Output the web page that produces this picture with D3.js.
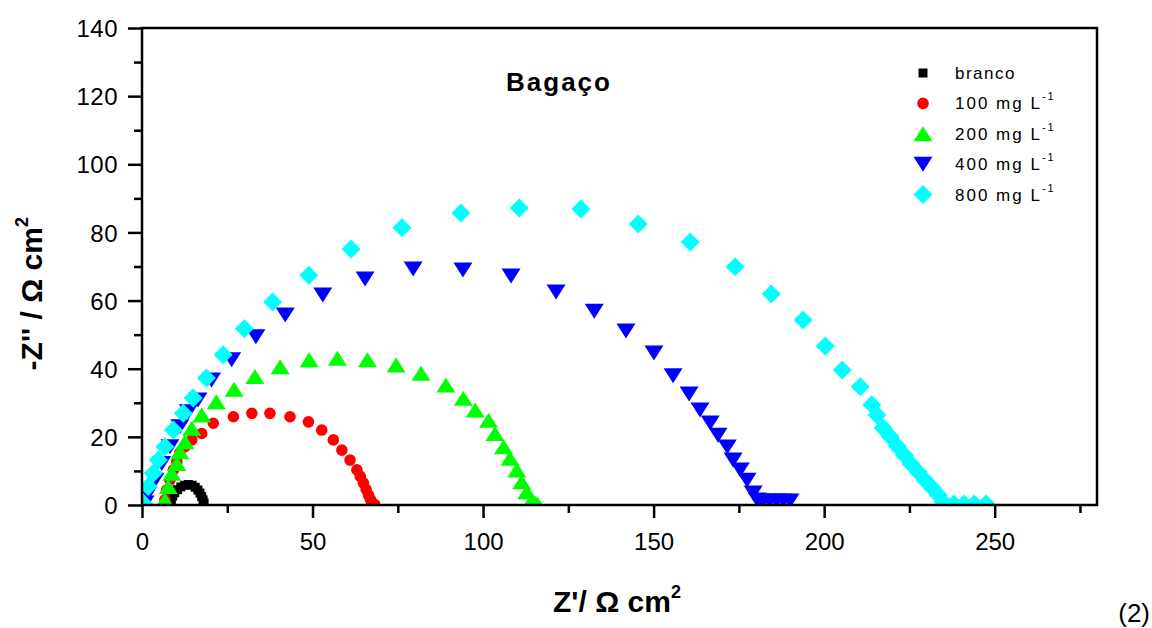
<!DOCTYPE html>
<html>
<head>
<meta charset="utf-8">
<script src="https://cdn.jsdelivr.net/npm/d3@7"></script>
<style>
  body { margin: 0; background: #fff; }
  text { font-family: "Liberation Sans", Arial, sans-serif; }
</style>
</head>
<body>
<div id="chart"></div>
<script>
// Nyquist data: [Z', -Z''] in ohm cm2
const branco = [
  [8.4, 0.5], [8.6, 1.5], [9.0, 2.6], [9.6, 3.6], [10.4, 4.5], [11.4, 5.3],
  [12.5, 5.8], [13.6, 6.0], [14.7, 5.8], [15.6, 5.2], [16.4, 4.4], [17.0, 3.5],
  [17.5, 2.5], [17.9, 1.5], [18.2, 0.6]
];
const mg100 = [
  [6.7, 1.5], [7.2, 4.4], [8.2, 7.3], [9.2, 10.3], [10.2, 12.7], [11.1, 15.3],
  [12.6, 17.1], [14.6, 19.1], [17.5, 21.0], [20.9, 24.0], [26.8, 25.9],
  [32.2, 26.9], [37.5, 26.9], [43.4, 25.9], [48.8, 24.4], [52.7, 22.0],
  [56.1, 19.1], [58.6, 16.1], [61.0, 13.2], [63.0, 10.3], [64.0, 8.4],
  [64.9, 6.5], [65.7, 4.6], [66.4, 2.9], [67.0, 1.6], [67.4, 0.6], [68.2, 0.2]
];
const mg200 = [
  [6.7, 1.5], [7.7, 5.4], [8.7, 9.3], [10.2, 12.2], [11.1, 15.6], [12.6, 18.6],
  [14.6, 22.5], [17.5, 26.4], [21.8, 30.3], [27.0, 34.0], [33.1, 37.7],
  [40.5, 40.6], [49.0, 42.6], [57.3, 43.1], [66.1, 42.6], [74.5, 41.1],
  [81.8, 38.7], [89.1, 35.2], [94.2, 31.3], [97.7, 27.9], [101.6, 24.9],
  [103.5, 21.0], [106.0, 17.1], [107.9, 13.7], [109.9, 10.3], [111.3, 6.8],
  [112.8, 3.9], [114.3, 1.5], [115.2, 0.6], [116.0, 0.2]
];
const mg400 = [
  [0.9, 0.6], [1.8, 3.4], [3.8, 7.3], [5.8, 12.2], [8.2, 17.1], [11.1, 23.0],
  [13.6, 27.4], [16.4, 30.8], [20.4, 36.7], [26.3, 42.6], [33.4, 49.4],
  [42.0, 55.8], [53.0, 61.6], [65.4, 66.3], [79.5, 69.3], [94.1, 69.0],
  [108.2, 67.2], [121.4, 62.5], [132.6, 56.9], [141.9, 51.1], [150.1, 44.6],
  [155.7, 37.9], [160.4, 32.6], [163.6, 27.9], [166.6, 24.1], [168.9, 20.5],
  [171.6, 17.0], [173.3, 13.2], [175.4, 10.3], [177.4, 7.3], [179.2, 3.5],
  [180.4, 1.5], [182.0, 1.2], [184.0, 1.2], [186.0, 1.2], [188.0, 1.2], [190.0, 1.2]
];
const mg800 = [
  [0.6, 0.3], [1.8, 5.4], [3.3, 9.3], [4.8, 13.2], [6.7, 17.1], [9.2, 22.0],
  [12.1, 26.9], [15.0, 31.4], [18.9, 37.3], [23.8, 44.1], [30.0, 51.7],
  [38.3, 59.6], [48.9, 67.4], [61.3, 75.1], [76.2, 81.4], [93.5, 85.7],
  [110.6, 87.2], [128.7, 86.9], [145.5, 82.5], [160.7, 77.2], [173.9, 69.9],
  [184.5, 61.9], [193.8, 54.3], [200.3, 46.7], [205.3, 39.6], [210.6, 34.7],
  [214.0, 29.4], [215.5, 26.4], [217.3, 22.6], [219.4, 20.0], [221.4, 17.3],
  [223.5, 14.7], [225.5, 12.0], [227.6, 9.7], [229.6, 7.3], [231.7, 5.0],
  [233.4, 2.9], [234.9, 0.9], [238.0, 0.3], [241.0, 0.3], [244.0, 0.3], [247.5, 0.3]
];

const seriesNames = ['branco', '100 mg L', '200 mg L', '400 mg L', '800 mg L'];
const seriesColors = ['#000000', '#ff0000', '#00ff00', '#0000ff', '#00ffff'];
const seriesShapes = ['square', 'circle', 'triangleUp', 'triangleDown', 'diamond'];
const seriesData = [branco, mg100, mg200, mg400, mg800];

const xTicks = [0, 50, 100, 150, 200, 250];
const yTicks = [0, 20, 40, 60, 80, 100, 120, 140];

const totalWidth = 1152;
const totalHeight = 628;
const margin = { top: 28, right: 55, bottom: 123, left: 142 };
const width = totalWidth - margin.left - margin.right;
const height = totalHeight - margin.top - margin.bottom;

const xScale = d3.scaleLinear().domain([0, 280]).range([0, width]);
const yScale = d3.scaleLinear().domain([0, 140]).range([height, 0]);

// marker outlines in pixels, centred on 0,0
const shapePath = (shape) => {
  switch (shape) {
    case 'square':
      return 'M-4.5,-4.5h9v9h-9Z';
    case 'circle':
      return 'M-5.8,0a5.8,5.8 0 1,0 11.6,0a5.8,5.8 0 1,0 -11.6,0Z';
    case 'triangleUp':
      return 'M0,-7.5L9.5,7.5L-9.5,7.5Z';
    case 'triangleDown':
      return 'M-9.5,-7.5L9.5,-7.5L0,7.5Z';
    default:
      return 'M0,-9.5L9.5,0L0,9.5L-9.5,0Z';
  }
};

const root = d3
  .select('#chart')
  .append('svg')
  .attr('width', totalWidth)
  .attr('height', totalHeight);

const svg = root
  .append('g')
  .attr('transform', `translate(${margin.left}, ${margin.top})`);

root
  .append('defs')
  .append('clipPath')
  .attr('id', 'plot-clip')
  .append('rect')
  .attr('width', width)
  .attr('height', height);

// Render points
const plot = svg.append('g').attr('clip-path', 'url(#plot-clip)');
seriesData.forEach((data, i) => {
  plot
    .append('g')
    .selectAll('path')
    .data(data)
    .join('path')
    .attr('d', shapePath(seriesShapes[i]))
    .attr('transform', (d) => `translate(${xScale(d[0])}, ${yScale(d[1])})`)
    .attr('fill', seriesColors[i]);
});

// Render x axis
const xAxis = svg
  .append('g')
  .attr('transform', `translate(0, ${height})`)
  .call(d3.axisBottom(xScale).tickValues(d3.range(0, 281, 25)).tickSize(0).tickFormat(''));
xAxis.select('.domain').remove();
xAxis
  .selectAll('.tick line')
  .attr('y2', (d) => (xTicks.includes(d) ? 13 : 8))
  .attr('stroke-width', 2.5);
xAxis
  .selectAll('.tick')
  .filter((d) => xTicks.includes(d))
  .append('text')
  .attr('y', 45)
  .attr('fill', '#000')
  .attr('font-size', 24)
  .attr('text-anchor', 'middle')
  .text((d) => d);

// Render y axis
const yAxis = svg
  .append('g')
  .call(d3.axisLeft(yScale).tickValues(d3.range(0, 141, 10)).tickSize(0).tickFormat(''));
yAxis.select('.domain').remove();
yAxis
  .selectAll('.tick line')
  .attr('x2', (d) => (yTicks.includes(d) ? -14 : -8))
  .attr('stroke-width', 2.5);
yAxis
  .selectAll('.tick')
  .filter((d) => yTicks.includes(d))
  .append('text')
  .attr('x', -24)
  .attr('dy', '0.36em')
  .attr('fill', '#000')
  .attr('font-size', 24)
  .attr('letter-spacing', 0.5)
  .attr('text-anchor', 'end')
  .text((d) => d);

// Frame
svg
  .append('rect')
  .attr('width', width)
  .attr('height', height)
  .attr('fill', 'none')
  .attr('stroke', '#000')
  .attr('stroke-width', 2.5);

// Title
svg
  .append('text')
  .attr('x', 417)
  .attr('y', 63)
  .attr('text-anchor', 'middle')
  .attr('font-size', 26)
  .attr('font-weight', 'bold')
  .attr('letter-spacing', 2)
  .text('Bagaço');

// Legend
const legend = svg.append('g').attr('transform', 'translate(781, 45)');
seriesNames.forEach((name, i) => {
  const row = legend.append('g').attr('transform', `translate(0, ${i * 30.4})`);
  row.append('path').attr('d', shapePath(seriesShapes[i])).attr('fill', seriesColors[i]);
  const label = row
    .append('text')
    .attr('x', 32)
    .attr('y', 6)
    .attr('font-size', 17)
    .attr('letter-spacing', i === 0 ? 1.5 : 2)
    .text(name);
  if (i > 0) {
    label.append('tspan').attr('font-size', 11).attr('dy', -9).text('-1');
  }
});

// Axis labels
svg
  .append('text')
  .attr('x', 475)
  .attr('y', height + 107)
  .attr('text-anchor', 'middle')
  .attr('font-size', 30)
  .attr('font-weight', 'bold')
  .text("Z'/ Ω cm")
  .append('tspan')
  .attr('font-size', 18)
  .attr('dy', -14)
  .text('2');

svg
  .append('text')
  .attr('transform', `translate(-100, ${yScale(62)}) rotate(-90)`)
  .attr('text-anchor', 'middle')
  .attr('font-size', 30)
  .attr('font-weight', 'bold')
  .text("-Z'' / Ω cm")
  .append('tspan')
  .attr('font-size', 18)
  .attr('dy', -14)
  .text('2');

root
  .append('text')
  .attr('x', 1150)
  .attr('y', 622)
  .attr('text-anchor', 'end')
  .attr('font-size', 26)
  .text('(2)');
</script>
</body>
</html>
